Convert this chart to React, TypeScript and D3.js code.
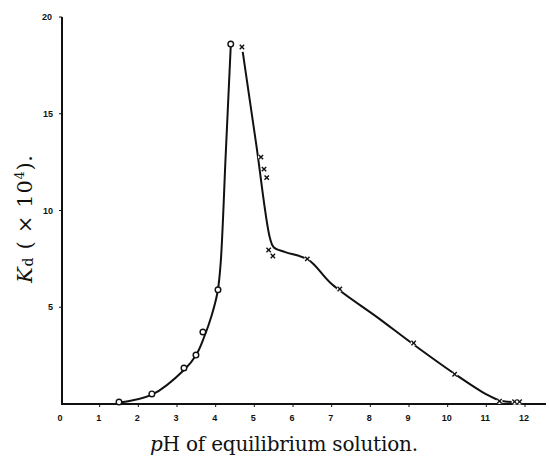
import React from "react";
import * as d3 from "d3";

// Observed points (circles: acid side, crosses: alkaline side)
const circlePH = [1.5, 2.35, 3.18, 3.49, 3.67, 4.06, 4.39];
const circleKd = [0.1, 0.52, 1.86, 2.53, 3.72, 5.9, 18.6];
const crossPH = [4.68, 5.17, 5.25, 5.32, 5.37, 5.48, 6.37, 7.21, 9.12, 10.18, 11.34, 11.73, 11.86];
const crossKd = [18.45, 12.76, 12.14, 11.7, 7.96, 7.65, 7.5, 5.94, 3.15, 1.54, 0.15, 0.12, 0.12];

// Hand-drawn fitted curves (knots)
const leftCurvePH = [1.45, 2.35, 3.2, 3.5, 3.7, 3.9, 4.05, 4.13, 4.26, 4.39];
const leftCurveKd = [0.05, 0.48, 1.8, 2.55, 3.45, 4.6, 5.8, 7.3, 12.9, 18.5];
const rightCurvePH = [4.7, 5.05, 5.4, 5.5, 5.8, 6.4, 7.0, 8.2, 9.1, 10.15, 11.0, 11.4, 11.9];
const rightCurveKd = [18.2, 13.4, 8.6, 8.1, 7.85, 7.45, 6.2, 4.45, 3.1, 1.6, 0.5, 0.15, 0.12];

const xTicks = [0, 1, 2, 3, 4, 5, 6, 7, 8, 9, 10, 11, 12];
const yTicks = [5, 10, 15, 20];

const W = 549;
const H = 458;

export default function App() {
  const x = d3.scaleLinear().domain([0, 12]).range([61, 525]);
  const y = d3.scaleLinear().domain([0, 20]).range([404, 17]);
  const ink = "#111";

  const line = d3
    .line<[number, number]>()
    .x((d) => x(d[0]))
    .y((d) => y(d[1]))
    .curve(d3.curveCatmullRom.alpha(0.5));

  const leftPts = leftCurvePH.map((p, i) => [p, leftCurveKd[i]] as [number, number]);
  const rightPts = rightCurvePH.map((p, i) => [p, rightCurveKd[i]] as [number, number]);

  const tickFont = "'Liberation Sans', Arial, sans-serif";
  const serif = "'DejaVu Serif', 'Liberation Serif', serif";

  return (
    <svg
      width={W}
      height={H}
      style={{ position: "absolute", left: 0, top: 0, background: "#fff" }}
    >
      {/* axes */}
      <line x1={62} y1={y(20)} x2={62} y2={y(0) + 1} stroke={ink} strokeWidth={2} />
      <line x1={61} y1={y(0)} x2={546} y2={y(0)} stroke={ink} strokeWidth={2} />
      {xTicks.map((t) => (
        <g key={"xt" + t}>
          {t > 0 && <line x1={x(t)} x2={x(t)} y1={y(0)} y2={y(0) + 3} stroke={ink} strokeWidth={1} />}
          <text
            x={x(t) - 1}
            y={421}
            textAnchor="middle"
            fontSize={9}
            fontWeight="bold"
            fontFamily={tickFont}
            fill={ink}
          >
            {t}
          </text>
        </g>
      ))}
      {yTicks.map((t) => (
        <g key={"yt" + t}>
          <line x1={59} x2={62} y1={y(t)} y2={y(t)} stroke={ink} strokeWidth={1} />
          <text
            x={t === 20 ? 52 : 53}
            y={y(t) + 3}
            textAnchor="end"
            fontSize={9}
            fontWeight="bold"
            fontFamily={tickFont}
            fill={ink}
          >
            {t}
          </text>
        </g>
      ))}

      {/* curves */}
      <path d={line(leftPts) || ""} fill="none" stroke={ink} strokeWidth={2} />
      <path d={line(rightPts) || ""} fill="none" stroke={ink} strokeWidth={2} />

      {/* cross markers with small white halo (gaps in the curve) */}
      {crossPH.map((p, i) => {
        const cx = x(p);
        const cy = y(crossKd[i]);
        const s = 2.2;
        return (
          <g key={"c" + i}>
            <circle cx={cx} cy={cy} r={3} fill="#fff" />
            <line x1={cx - s} y1={cy - s} x2={cx + s} y2={cy + s} stroke={ink} strokeWidth={1.4} />
            <line x1={cx - s} y1={cy + s} x2={cx + s} y2={cy - s} stroke={ink} strokeWidth={1.4} />
          </g>
        );
      })}

      {/* circle markers */}
      {circlePH.map((p, i) => (
        <circle
          key={"o" + i}
          cx={x(p)}
          cy={y(circleKd[i])}
          r={2.8}
          fill="#fff"
          stroke={ink}
          strokeWidth={1.4}
        />
      ))}

      {/* axis titles */}
      <text
        transform={`translate(32,219) rotate(-90)`}
        textAnchor="middle"
        fontSize={21}
        fontFamily={serif}
        fill={ink}
        textLength={128}
        lengthAdjust="spacing"
      >
        <tspan fontStyle="italic">K</tspan>
        <tspan fontSize={14} dy={1}>d</tspan>
        <tspan dy={-1}> ( × 10</tspan>
        <tspan fontSize={13} dy={-8}>4</tspan>
        <tspan dy={8}>).</tspan>
      </text>
      <text
        x={284}
        y={451}
        textAnchor="middle"
        fontSize={20}
        fontFamily={serif}
        fill={ink}
        textLength={268}
        lengthAdjust="spacing"
      >
        <tspan fontStyle="italic">p</tspan>H of equilibrium solution.
      </text>
    </svg>
  );
}
